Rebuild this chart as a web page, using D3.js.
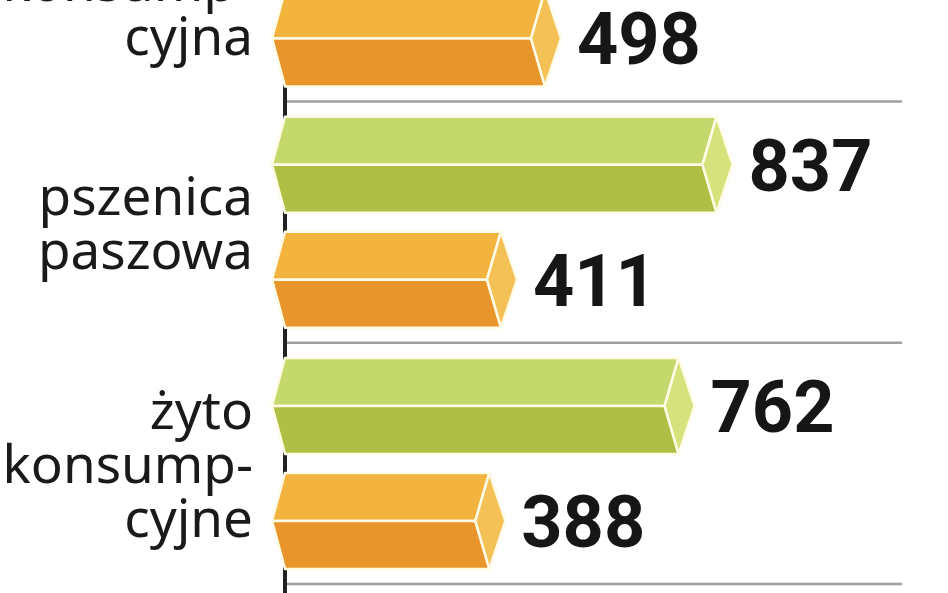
<!DOCTYPE html>
<html>
<head>
<meta charset="utf-8">
<script src="https://cdn.jsdelivr.net/npm/d3@7"></script>
<style>
  body { margin: 0; background: #fff; }
  svg { display: block; }
</style>
</head>
<body>
<div id="chart"></div>
<script>
var width = 948, height = 593;

// data
var categories = ["pszenica konsumpcyjna", "pszenica paszowa", "żyto konsumpcyjne"];
var labelLines = [["pszenica", "konsump-", "cyjna"], ["pszenica", "paszowa"], ["żyto", "konsump-", "cyjne"]];
var seriesKeys = ["zielony", "pomarańczowy"];
var greenValues = [900, 837, 762];   // first one is off the picture, estimated
var orangeValues = [498, 411, 388];

var colors = {
  "zielony": {top: "#c5d86b", bottom: "#afbf45", cap: "#d4e37c"},
  "pomarańczowy": {top: "#f2b33f", bottom: "#e8962b", cap: "#f3c155"}
};

var barLeft = 285;
var tip = 13, capOut = 16, capIn = 14;

var svg = d3.select("#chart").append("svg")
  .attr("width", width)
  .attr("height", height);

var x = d3.scaleLinear().domain([0, 1000]).range([293, 799]);

var y = d3.scaleBand()
  .domain(categories)
  .range([-139.7, 584]);

var bw = y.bandwidth();

var inner = d3.scaleBand()
  .domain(seriesKeys)
  .range([bw / 2 - 115, bw / 2 + 115])
  .paddingInner(19 / 115)
  .paddingOuter(19 / 115 / 2);

var data = categories.map(function(c, i) {
  return {
    cat: c,
    lines: labelLines[i],
    bars: [
      {key: seriesKeys[0], value: greenValues[i]},
      {key: seriesKeys[1], value: orangeValues[i]}
    ]
  };
});

// gridlines between groups
svg.append("g").selectAll("line")
  .data(categories)
  .enter().append("line")
  .attr("x1", barLeft + 2)
  .attr("x2", 902)
  .attr("y1", function(d) { return y(d) + bw; })
  .attr("y2", function(d) { return y(d) + bw; })
  .attr("stroke", "#9f9f9f")
  .attr("stroke-width", 2.5);

// axis line, mostly hidden behind bars
svg.append("line")
  .attr("x1", barLeft).attr("x2", barLeft)
  .attr("y1", 0).attr("y2", height)
  .attr("stroke", "#222")
  .attr("stroke-width", 4);

var groups = svg.selectAll("g.group")
  .data(data)
  .enter().append("g")
  .attr("class", "group")
  .attr("transform", function(d) { return "translate(0," + y(d.cat) + ")"; });

var bars = groups.selectAll("g.bar")
  .data(function(d) { return d.bars; })
  .enter().append("g")
  .attr("class", "bar");

function face(pts) {
  return "M" + pts.map(function(p) { return p.join(","); }).join("L") + "Z";
}

function geom(d) {
  var y0 = inner(d.key), h = inner.bandwidth();
  return {y0: y0, mid: y0 + h / 2, y1: y0 + h, r: x(d.value)};
}

bars.append("path")
  .attr("d", function(d) {
    var g = geom(d);
    return face([[barLeft, g.y0], [g.r, g.y0], [g.r - capIn, g.mid], [barLeft - tip, g.mid]]);
  })
  .attr("fill", function(d) { return colors[d.key].top; });

bars.append("path")
  .attr("d", function(d) {
    var g = geom(d);
    return face([[barLeft - tip, g.mid], [g.r - capIn, g.mid], [g.r, g.y1], [barLeft, g.y1]]);
  })
  .attr("fill", function(d) { return colors[d.key].bottom; });

bars.append("path")
  .attr("d", function(d) {
    var g = geom(d);
    return face([[g.r, g.y0], [g.r + capOut, g.mid], [g.r, g.y1], [g.r - capIn, g.mid]]);
  })
  .attr("fill", function(d) { return colors[d.key].cap; });

bars.selectAll("path")
  .attr("stroke", "#fffbe6")
  .attr("stroke-width", 2.5)
  .attr("stroke-linejoin", "round");

// values
bars.append("text")
  .attr("x", function(d) { return x(d.value) + capOut + 16; })
  .attr("y", function(d) { return geom(d).mid + 26; })
  .attr("font-family", "Roboto, sans-serif")
  .attr("font-weight", 700)
  .attr("font-size", 72)
  .attr("fill", "#161616")
  .text(function(d) { return d.value; });

// category labels
var lineH = 54;
groups.append("text")
  .attr("text-anchor", "end")
  .attr("font-family", "'Noto Sans', sans-serif")
  .attr("font-size", 53)
  .attr("fill", "#1a1a1a")
  .selectAll("tspan")
  .data(function(d) { return d.lines.map(function(l, i) { return {t: l, i: i, n: d.lines.length}; }); })
  .enter().append("tspan")
  .attr("x", 253)
  .attr("y", function(d) { return bw / 2 + 20 + (d.i - (d.n - 1) / 2) * lineH; })
  .text(function(d) { return d.t; });
</script>
</body>
</html>
